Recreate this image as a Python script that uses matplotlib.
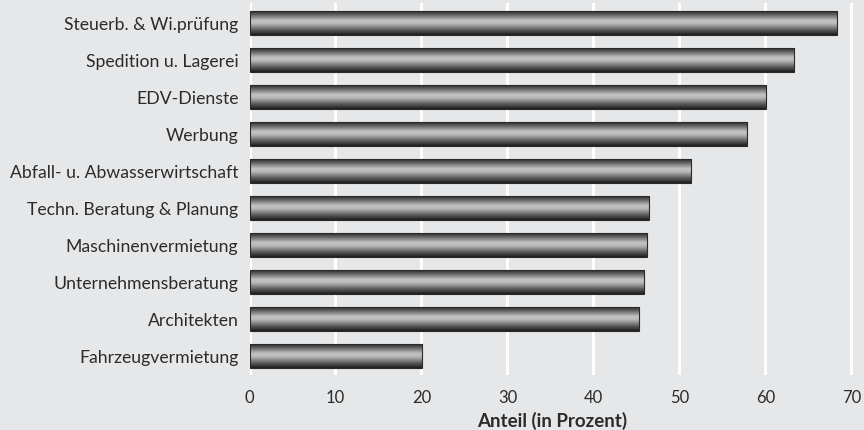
import numpy as np
import matplotlib.pyplot as plt
from matplotlib.colors import LinearSegmentedColormap

# Share of firms per service branch (percent)
branches = [
    "Steuerb. & Wi.prüfung",
    "Spedition u. Lagerei",
    "EDV-Dienste",
    "Werbung",
    "Abfall- u. Abwasserwirtschaft",
    "Techn. Beratung & Planung",
    "Maschinenvermietung",
    "Unternehmensberatung",
    "Architekten",
    "Fahrzeugvermietung",
]
shares = [68.3, 63.3, 60.1, 57.9, 51.4, 46.5, 46.2, 45.9, 45.3, 20.1]
xticks = [0, 10, 20, 30, 40, 50, 60, 70]

bg = "#e6e7e9"
plt.rcParams['font.family'] = ['Lato', 'DejaVu Sans']

fig = plt.figure(figsize=(8.64, 4.31), dpi=100, facecolor=bg)
ax = fig.add_axes([249.5 / 864, 55 / 431, (854 - 249.5) / 864, (426.7 - 55) / 431])
ax.set_facecolor(bg)

ypos = np.arange(len(branches))
bars = ax.barh(ypos, shares, height=0.65, color="none",
               edgecolor="#2a2a2a", linewidth=0.8, zorder=3)

# metallic tube shading, dark rims and a light band across the middle
tube = LinearSegmentedColormap.from_list("tube", [
    (0.0, "#1e1e1e"), (0.08, "#3c3c3c"), (0.2, "#6a6a6a"),
    (0.42, "#c4c4c4"), (0.55, "#b8b8b8"), (0.8, "#5c5c5c"),
    (0.93, "#353535"), (1.0, "#1c1c1c")])
grad = np.linspace(0, 1, 64).reshape(-1, 1)
for b in bars:
    x0, y0, w, h = b.get_x(), b.get_y(), b.get_width(), b.get_height()
    im = ax.imshow(grad, cmap=tube, aspect="auto", interpolation="bilinear",
                   extent=(x0, x0 + w, y0 + h, y0), zorder=2)
    im.set_clip_path(b)

ax.set_xlim(0, 70.3)
ax.set_ylim(len(branches) - 0.48, -0.53)
ax.set_xticks(xticks)
ax.set_yticks(ypos)
ax.set_yticklabels(branches, fontsize=12.7)
ax.tick_params(axis="both", length=0, colors="#2b2b2b")
ax.tick_params(axis="x", pad=10, labelsize=12)
ax.tick_params(axis="y", pad=8)
ax.grid(axis="x", color="white", linewidth=2.2, zorder=0)
ax.set_axisbelow(True)
for s in ax.spines.values():
    s.set_visible(False)

ax.set_xlabel("Anteil (in Prozent)", fontsize=13.5, fontweight="bold",
              color="#2b2b2b", labelpad=4)

fig.savefig("out.png", dpi=100, facecolor=bg)
